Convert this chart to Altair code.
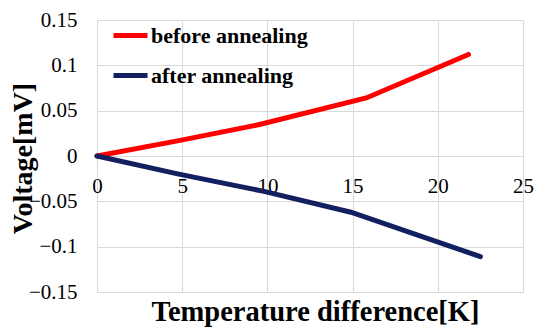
import altair as alt
import pandas as pd

# Data
before_x = [0, 4.8, 9.6, 15.8, 21.8]
before_y = [0, 0.017, 0.035, 0.064, 0.112]
after_x = [0, 4.8, 9.8, 14.9, 22.5]
after_y = [0, -0.020, -0.039, -0.062, -0.111]
series = ["before annealing", "after annealing"]
colors = ["#FF0000", "#13205F"]
x_ticks = [0, 5, 10, 15, 20, 25]
y_ticks = [-0.15, -0.1, -0.05, 0, 0.05, 0.1, 0.15]

rows = []
for i, (xs, ys) in enumerate([(before_x, before_y), (after_x, after_y)]):
    for j, (a, b) in enumerate(zip(xs, ys)):
        rows.append({"series": series[i], "dT": a, "V": b, "order": j})
df = pd.DataFrame(rows)

FONT = "Liberation Serif"

xscale = alt.Scale(domain=[0, 25], nice=False, zero=False)
yscale = alt.Scale(domain=[-0.15, 0.15], nice=False, zero=False)

yaxis = alt.Axis(values=y_ticks, format=".2~f", ticks=False, domain=False,
                 grid=True, gridColor="#D9D9D9", gridWidth=1,
                 labelPadding=20, labelFont=FONT, labelFontSize=21,
                 labelColor="black", labelFontWeight="normal",
                 title="Voltage[mV]", titleFont=FONT, titleFontSize=28,
                 titleFontWeight="bold", titleX=-60, titleY=138,
                 titleAngle=270, titleAlign="center", titleBaseline="bottom")

lines = alt.Chart(df).mark_line(strokeWidth=5, strokeCap="round").encode(
    x=alt.X("dT:Q", scale=xscale,
            axis=alt.Axis(values=x_ticks, labels=False, ticks=False, domain=False,
                          grid=True, gridColor="#D9D9D9", gridWidth=1,
                          title="Temperature difference[K]", titleFont=FONT,
                          titleFontSize=28.5, titleFontWeight="bold", titlePadding=5,
                          titleX=218, titleAnchor="middle")),
    y=alt.Y("V:Q", scale=yscale, axis=yaxis),
    color=alt.Color("series:N", scale=alt.Scale(domain=series, range=colors),
                    legend=alt.Legend(title=None, orient="none", legendX=14, legendY=-4,
                                      symbolType="stroke", symbolSize=1156,
                                      symbolStrokeWidth=5, labelFont=FONT,
                                      labelFontSize=22, labelFontWeight="bold",
                                      labelColor="black", rowPadding=9,
                                      labelOffset=1)),
    order="order:Q",
)

xlabels = alt.Chart(df).mark_point(opacity=0).encode(
    x=alt.X("dT:Q", scale=xscale,
            axis=alt.Axis(values=x_ticks, orient="bottom", offset=-136, ticks=False,
                          domain=False, grid=False, title=None, labelFlush=False,
                          labelFont=FONT, labelFontSize=21, labelColor="black",
                          labelFontWeight="normal", labelPadding=19)),
    y=alt.Y("V:Q", scale=yscale, axis=yaxis),
)

chart = alt.layer(lines, xlabels).resolve_axis(x="independent").properties(
    width=426, height=272,
    autosize=alt.AutoSizeParams(type="none"),
    padding={"left": 89, "top": 12, "right": 19, "bottom": 37},
).configure_view(stroke=None).configure(background="white", font=FONT).configure_axis(
    labelFont=FONT, labelFontSize=21, labelColor="black",
    titleFont=FONT, titleColor="black",
).configure_legend(labelFont=FONT)

chart.save("out.html", embed_options={"renderer": "svg", "actions": False})
